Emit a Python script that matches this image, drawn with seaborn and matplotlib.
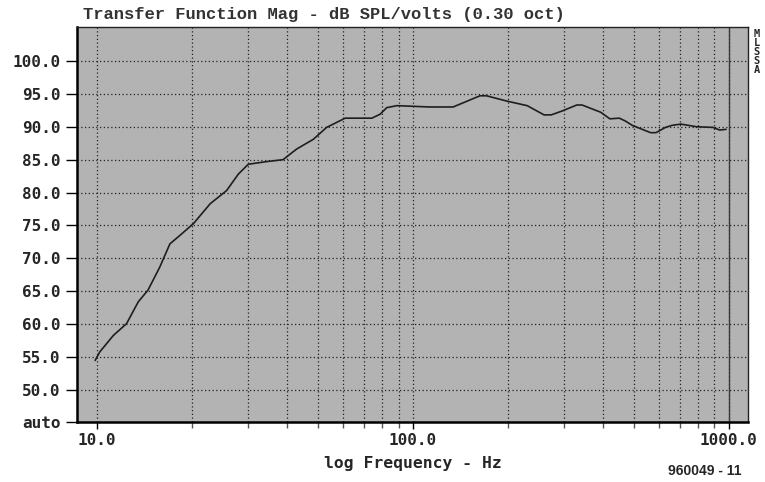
import numpy as np
import pandas as pd
import matplotlib
matplotlib.use("Agg")
import matplotlib.pyplot as plt
import matplotlib.ticker as mticker
import seaborn as sns

# ---- dados ----
freq_hz = [9.86, 10.2, 11.26, 12.4, 13.5, 14.5, 15.8, 17.0, 18.5, 20.2, 22.8,
           25.7, 28.0, 30.1, 34.4, 38.8, 42.8, 48.4, 53.3, 61.0, 74.1, 78.7,
           82.6, 88.9, 113, 134, 163, 171, 198, 230, 260, 274, 297, 330, 343,
           393, 420, 450, 469, 495, 565, 588, 630, 660, 705, 790, 890, 935, 980]
spl_db = [54.5, 55.8, 58.3, 60.1, 63.4, 65.2, 68.7, 72.2, 73.7, 75.3, 78.3,
          80.3, 82.8, 84.3, 84.7, 85.0, 86.6, 88.1, 89.9, 91.3, 91.3, 91.9,
          92.9, 93.2, 93.0, 93.0, 94.7, 94.7, 93.9, 93.2, 91.8, 91.8, 92.4,
          93.3, 93.3, 92.2, 91.2, 91.3, 90.9, 90.2, 89.1, 89.1, 89.9, 90.2,
          90.4, 90.0, 89.9, 89.5, 89.6]

y_ticks = [50, 55, 60, 65, 70, 75, 80, 85, 90, 95, 100]
x_major = [10, 100, 1000]
x_major_labels = ["10.0", "100.0", "1000.0"]
x_minor = [20, 30, 40, 50, 60, 70, 80, 90, 200, 300, 400, 500, 600, 700, 800, 900]

df = pd.DataFrame({"freq": freq_hz, "spl": spl_db})

sns.set_theme(style="white")
plt.rcParams["font.family"] = ["DejaVu Sans Mono", "DejaVu Sans"]

fig = plt.figure(figsize=(7.65, 4.82), dpi=100)
ax = fig.add_axes([0.1007, 0.1245, 0.8771, 0.8195])
ax.set_facecolor("#b3b3b3")

sns.lineplot(data=df, x="freq", y="spl", ax=ax, color="#1e1e1e", linewidth=1.2)

ax.set_xscale("log")
y_bottom = 45.15
ax.set_xlim(8.64, 1150)
ax.set_ylim(y_bottom, 105.15)

# eixos e grade pontilhada
ax.set_yticks(y_ticks + [y_bottom])
ax.set_yticklabels([f"{v:.1f}" for v in y_ticks] + ["auto"], fontsize=11.5, fontweight="bold")
ax.yaxis.get_major_ticks()[-1].tick1line.set_visible(False)
ax.xaxis.set_major_locator(mticker.FixedLocator(x_major))
ax.xaxis.set_major_formatter(mticker.FixedFormatter(x_major_labels))
ax.xaxis.set_minor_locator(mticker.FixedLocator(x_minor))
ax.xaxis.set_minor_formatter(mticker.NullFormatter())
for lbl in ax.get_xticklabels():
    lbl.set_fontsize(11.5)
    lbl.set_fontweight("bold")

ax.grid(True, which="both", axis="x", color="#222222", linestyle=(0, (1, 2)), linewidth=0.9)
ax.grid(True, which="major", axis="y", color="#222222", linestyle=(0, (1, 2)), linewidth=0.9)
ax.axvline(1000, color="#3a3a3a", linewidth=1.0)

ax.tick_params(axis="x", which="major", direction="out", length=5, width=1, color="black", bottom=True, pad=3)
ax.tick_params(axis="x", which="minor", direction="out", length=4, width=1, color="#555555", bottom=True)
ax.tick_params(axis="y", direction="out", length=8, width=1, color="black", left=True, pad=4)

for s in ["left", "bottom"]:
    ax.spines[s].set_color("black")
    ax.spines[s].set_linewidth(1.8)
for s in ["top", "right"]:
    ax.spines[s].set_color("#222222")
    ax.spines[s].set_linewidth(1.0)

ax.set_xlabel("log Frequency - Hz", fontsize=11.8, fontweight="bold", labelpad=6)
ax.set_ylabel("")

fig.text(83 / 765, 1 - 15 / 482, "Transfer Function Mag - dB SPL/volts (0.30 oct)",
         fontsize=12.3, family="Liberation Mono", fontweight="bold", ha="left", va="center", color="#333333")
fig.text(757 / 765, 1 - 52 / 482, "M\nL\nS\nS\nA", fontsize=7.5, fontweight="bold",
         ha="center", va="center", linespacing=0.9)
fig.text(705 / 765, 1 - 471 / 482, "960049 - 11", fontsize=10, family="Liberation Sans",
         fontweight="bold", ha="center", va="center")

fig.savefig("out.png", dpi=100)
